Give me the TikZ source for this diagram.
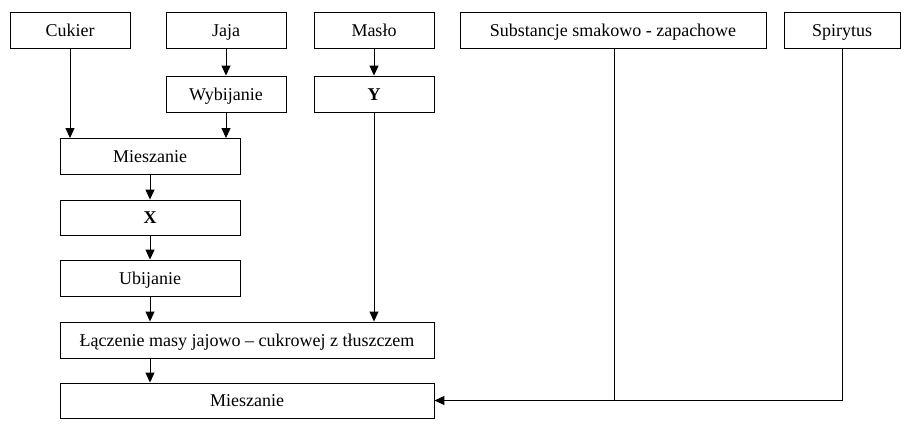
\documentclass[tikz,border=0pt]{standalone}
\usepackage{fontspec}
\setmainfont{Liberation Serif}
\usetikzlibrary{arrows.meta}
\begin{document}
\begin{tikzpicture}[x=1pt,y=-1pt,
 box/.style={draw,line width=0.9pt,minimum height=36pt,inner sep=0pt,text height=13pt,text depth=1pt,font=\fontsize{18}{20}\selectfont},
 arr/.style={line width=1pt,-{Triangle[length=10pt,width=9pt]}},
 ln/.style={line width=1pt}]
\useasboundingbox (0,0) rectangle (912,429);
\node[box,minimum width=120pt] (cuk) at (70,30) {Cukier};
\node[box,minimum width=120pt] (jaja) at (226,30) {Jaja};
\node[box,minimum width=120pt] (maslo) at (374,30) {Masło};
\node[box,minimum width=306pt] (sub) at (613,30) {Substancje smakowo - zapachowe};
\node[box,minimum width=116pt] (spi) at (842,30) {Spirytus};
\node[box,minimum width=120pt] (wyb) at (226,94) {Wybijanie};
\node[box,minimum width=120pt] (y) at (374,94) {\textbf{Y}};
\node[box,minimum width=180pt] (mie) at (150,156.5) {Mieszanie};
\node[box,minimum width=180pt,minimum height=35pt] (x) at (150,217.5) {\textbf{X}};
\node[box,minimum width=180pt] (ubi) at (150,278) {Ubijanie};
\node[box,minimum width=374pt] (lacz) at (247,340) {Łączenie masy jajowo – cukrowej z tłuszczem};
\node[box,minimum width=374pt,minimum height=35pt] (mie2) at (247,400.5) {Mieszanie};
\coordinate (j) at (614,400);
\draw[arr] (cuk) -- (cuk|-mie.north);
\draw[arr] (jaja) -- (wyb);
\draw[arr] (wyb) -- (wyb|-mie.north);
\draw[arr] (maslo) -- (y);
\draw[arr] (y) -- (y|-lacz.north);
\draw[arr] (mie) -- (x);
\draw[arr] (x) -- (ubi);
\draw[arr] (ubi) -- (ubi|-lacz.north);
\draw[arr] (ubi|-lacz.south) -- (ubi|-mie2.north);
\draw[ln] (sub.south-|j) -- (j);
\draw[arr] (spi.south) |- (mie2.east);
\end{tikzpicture}
\end{document}
